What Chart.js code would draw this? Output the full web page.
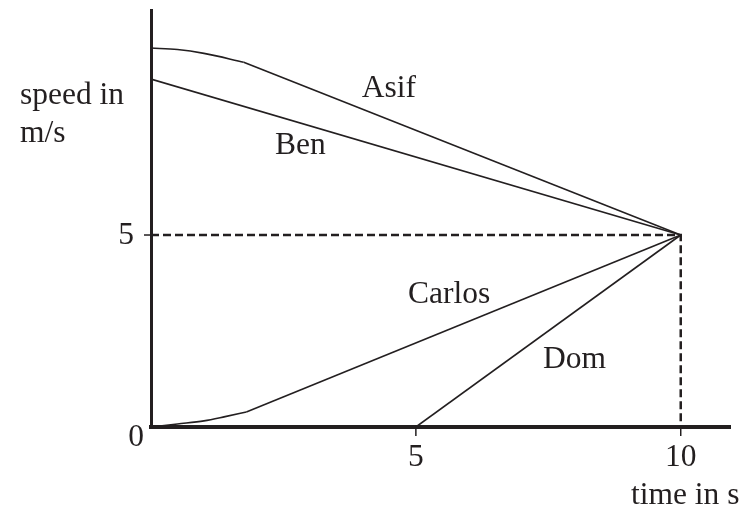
<!DOCTYPE html>
<html>
<head>
<meta charset="utf-8">
<script src="https://cdn.jsdelivr.net/npm/chart.js@4"></script>
<style>
  html, body { margin: 0; padding: 0; background: #fff; }
  #wrap { width: 745px; height: 509px; }
</style>
</head>
<body>
<div id="wrap"><canvas id="speedChart"></canvas></div>
<script>
// values (time in s, speed in m/s)
// first part of Asif and Carlos is a smooth bend, the rest is straight
const asifPoints = [[0, 9.87], [0.5, 9.83], [1.0, 9.73], [1.75, 9.5], [10, 5]];
const benPoints = [[0, 9.06], [10, 5]];
const carlosPoints = [[0, 0], [0.5, 0.08], [1.0, 0.16], [1.4, 0.27], [1.8, 0.39], [10, 5]];
const domPoints = [[5, 0], [10, 5]];
const guidePoints = [[0, 5], [10, 5], [10, 0]];

const xTicks = [5, 10];
const yTicks = [5];

// series names placed next to their lines (data coords, left/baseline)
const seriesLabels = [
    { text: 'Asif', x: 3.98, y: 8.59 },
    { text: 'Ben', x: 2.34, y: 7.11 },
    { text: 'Carlos', x: 4.85, y: 3.23 },
    { text: 'Dom', x: 7.40, y: 1.54 }
];

const ink = '#231f20';
const font = '31.5px "Liberation Serif", "Times New Roman", serif';

function toXY(points) {
    return points.map(([x, y]) => ({ x: x, y: y }));
}

const textPlugin = {
    id: 'textPlugin',
    afterDraw(chart) {
        const ctx = chart.ctx;
        const xs = chart.scales.x;
        const ys = chart.scales.y;
        const y0 = ys.getPixelForValue(0);
        const x0 = xs.getPixelForValue(0);
        ctx.save();
        ctx.fillStyle = ink;
        ctx.strokeStyle = ink;
        ctx.font = font;

        // tick marks
        ctx.lineWidth = 1.5;
        xTicks.forEach(v => {
            const px = xs.getPixelForValue(v);
            ctx.beginPath();
            ctx.moveTo(px, y0);
            ctx.lineTo(px, y0 + 9);
            ctx.stroke();
        });
        yTicks.forEach(v => {
            const py = ys.getPixelForValue(v);
            ctx.beginPath();
            ctx.moveTo(x0 - 7, py);
            ctx.lineTo(x0, py);
            ctx.stroke();
        });

        // tick labels
        ctx.textAlign = 'center';
        ctx.textBaseline = 'top';
        xTicks.forEach(v => {
            ctx.fillText(String(v), xs.getPixelForValue(v), y0 + 15);
        });
        ctx.textAlign = 'right';
        ctx.textBaseline = 'middle';
        yTicks.forEach(v => {
            ctx.fillText(String(v), x0 - 17, ys.getPixelForValue(v) + 1);
        });
        ctx.fillText('0', x0 - 7, y0 + 11);

        // axis titles
        ctx.textAlign = 'left';
        ctx.textBaseline = 'alphabetic';
        ctx.fillText('speed in', 20, 104);
        ctx.fillText('m/s', 20, 142);
        ctx.fillText('time in s', 631, 504);

        // series names
        seriesLabels.forEach(l => {
            ctx.fillText(l.text, xs.getPixelForValue(l.x), ys.getPixelForValue(l.y));
        });
        ctx.restore();
    }
};

const lineStyle = {
    borderColor: ink,
    borderWidth: 1.6,
    pointRadius: 0,
    fill: false,
    tension: 0
};
const curveStyle = { ...lineStyle, cubicInterpolationMode: 'monotone' };

new Chart(document.getElementById('speedChart'), {
    type: 'line',
    data: {
        datasets: [
            { label: 'Asif', data: toXY(asifPoints.slice(0, 4)), ...curveStyle },
            { label: 'Asif', data: toXY(asifPoints.slice(3)), ...lineStyle },
            { label: 'Ben', data: toXY(benPoints), ...lineStyle },
            { label: 'Carlos', data: toXY(carlosPoints.slice(0, 5)), ...curveStyle },
            { label: 'Carlos', data: toXY(carlosPoints.slice(4)), ...lineStyle },
            { label: 'Dom', data: toXY(domPoints), ...lineStyle },
            {
                label: 'guide',
                data: toXY(guidePoints),
                borderColor: ink,
                borderWidth: 2.5,
                borderDash: [8, 4],
                pointRadius: 0,
                fill: false
            }
        ]
    },
    options: {
        responsive: true,
        maintainAspectRatio: false,
        animation: false,
        layout: {
            padding: { left: 151, right: 15, top: 10, bottom: 82 }
        },
        plugins: {
            legend: { display: false },
            tooltip: { enabled: false }
        },
        scales: {
            x: {
                type: 'linear',
                min: 0,
                max: 10.93,
                grid: { display: false },
                ticks: { display: false },
                border: { display: true, color: ink, width: 4 },
                afterFit: (scale) => { scale.height = 0; }
            },
            y: {
                type: 'linear',
                min: 0,
                max: 10.86,
                grid: { display: false },
                ticks: { display: false },
                border: { display: true, color: ink, width: 3 },
                afterFit: (scale) => { scale.width = 0; }
            }
        }
    },
    plugins: [textPlugin]
});
</script>
</body>
</html>
